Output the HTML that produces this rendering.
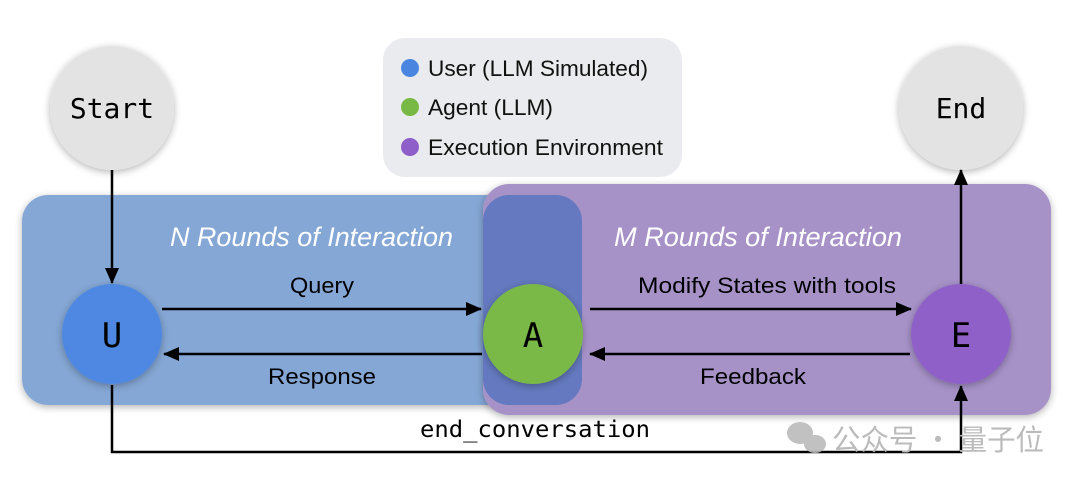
<!DOCTYPE html>
<html><head><meta charset="utf-8"><style>body{margin:0;background:#fff}</style></head><body>
<svg width="1080" height="482" xmlns="http://www.w3.org/2000/svg" font-family="Liberation Sans, sans-serif">
<defs>
<marker id="ar" markerWidth="16" markerHeight="14" refX="15" refY="7" orient="auto" markerUnits="userSpaceOnUse" viewBox="0 0 16 14"><path d="M0,0 L16,7 L0,14 z" fill="#000"/></marker>
<filter id="sh" x="-10%" y="-10%" width="120%" height="120%"><feGaussianBlur in="SourceAlpha" stdDeviation="4"/><feOffset dy="2"/><feComponentTransfer><feFuncA type="linear" slope="0.3"/></feComponentTransfer><feMerge><feMergeNode/><feMergeNode in="SourceGraphic"/></feMerge></filter>
</defs>
<rect x="22" y="195" width="560" height="210" rx="26" fill="#85a7d5" filter="url(#sh)"/>
<rect x="483" y="184" width="568" height="231" rx="26" fill="#a792c8" filter="url(#sh)"/>
<rect x="483" y="195" width="99" height="210" rx="26" fill="#6479bf"/>
<rect x="383" y="38" width="299" height="139" rx="22" fill="#eaebee"/>
<circle cx="410" cy="68" r="9" fill="#4a86e0"/><text x="428" y="76" font-size="22" textLength="220" lengthAdjust="spacingAndGlyphs" fill="#111">User (LLM Simulated)</text>
<circle cx="410" cy="107" r="9" fill="#78b845"/><text x="428" y="115" font-size="22" textLength="125" lengthAdjust="spacingAndGlyphs" fill="#111">Agent (LLM)</text>
<circle cx="410" cy="147" r="9" fill="#8e5fc8"/><text x="428" y="155" font-size="22" textLength="235" lengthAdjust="spacingAndGlyphs" fill="#111">Execution Environment</text>
<circle cx="112" cy="108" r="62" fill="#e3e3e3" filter="url(#sh)"/>
<text x="112" y="118" font-size="28" font-family="DejaVu Sans Mono, monospace" text-anchor="middle">Start</text>
<circle cx="961" cy="108" r="62" fill="#e3e3e3" filter="url(#sh)"/>
<text x="961" y="118" font-size="28" font-family="DejaVu Sans Mono, monospace" text-anchor="middle">End</text>
<text x="170" y="246" font-size="27" font-style="italic" fill="#fff" textLength="283" lengthAdjust="spacingAndGlyphs">N Rounds of Interaction</text>
<text x="614" y="246" font-size="27" font-style="italic" fill="#fff" textLength="288" lengthAdjust="spacingAndGlyphs">M Rounds of Interaction</text>
<text x="290" y="293" font-size="22" textLength="64" lengthAdjust="spacingAndGlyphs">Query</text>
<text x="268" y="384" font-size="22" textLength="108" lengthAdjust="spacingAndGlyphs">Response</text>
<text x="638" y="293" font-size="22" textLength="258" lengthAdjust="spacingAndGlyphs">Modify States with tools</text>
<text x="700" y="384" font-size="22" textLength="106" lengthAdjust="spacingAndGlyphs">Feedback</text>
<g stroke="#000" stroke-width="2.5" fill="none">
<line x1="112" y1="170" x2="112" y2="283" marker-end="url(#ar)"/>
<line x1="961" y1="284" x2="961" y2="170" marker-end="url(#ar)"/>
<line x1="162" y1="309" x2="481" y2="309" marker-end="url(#ar)"/>
<line x1="482" y1="354" x2="164" y2="354" marker-end="url(#ar)"/>
<line x1="590" y1="309" x2="911" y2="309" marker-end="url(#ar)"/>
<line x1="910" y1="354" x2="590" y2="354" marker-end="url(#ar)"/>
<polyline points="112,385 112,452 961,452 961,386" marker-end="url(#ar)"/>
</g>
<ellipse cx="112" cy="334" rx="50" ry="50" fill="#4f88e3" filter="url(#sh)"/>
<ellipse cx="533" cy="334" rx="50" ry="50" fill="#7ab847" filter="url(#sh)"/>
<ellipse cx="961" cy="334" rx="50" ry="50" fill="#8f60c7" filter="url(#sh)"/>
<text x="112" y="347" font-size="34" font-family="DejaVu Sans Mono, monospace" text-anchor="middle">U</text>
<text x="533" y="347" font-size="34" font-family="DejaVu Sans Mono, monospace" text-anchor="middle">A</text>
<text x="961" y="347" font-size="34" font-family="DejaVu Sans Mono, monospace" text-anchor="middle">E</text>
<text x="420" y="437" font-size="23" font-family="DejaVu Sans Mono, monospace" textLength="230" lengthAdjust="spacingAndGlyphs">end_conversation</text>
<g fill="#bbb" opacity="0.9"><ellipse cx="800" cy="433" rx="13" ry="11"/><ellipse cx="815" cy="444" rx="11" ry="9"/></g>
<text x="832" y="450" font-size="29" fill="#bbb" font-family="Noto Sans CJK SC, sans-serif" textLength="212" lengthAdjust="spacingAndGlyphs">公众号 · 量子位</text>
</svg>
</body></html>
